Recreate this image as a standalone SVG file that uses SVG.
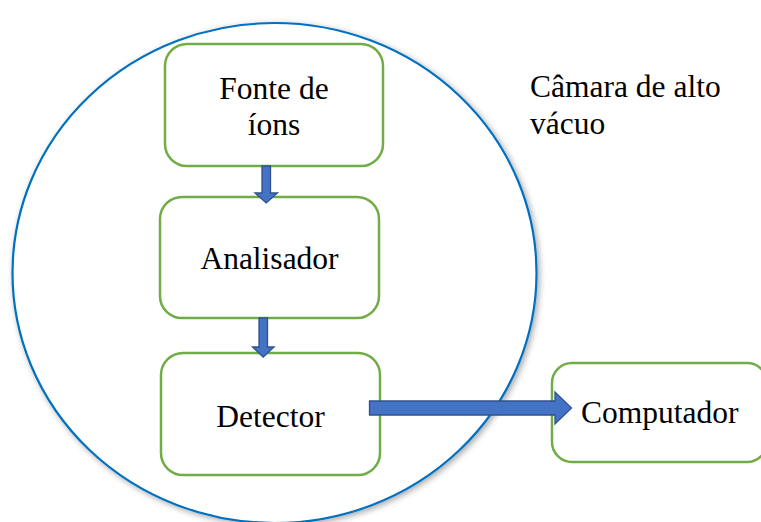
<svg xmlns="http://www.w3.org/2000/svg" width="761" height="522" viewBox="0 0 761 522">
<defs>
<style>
.box{fill:#fff;stroke:#70AD47;stroke-width:2.5}
.t{font-family:"Liberation Serif","Times New Roman",serif;font-size:31.5px;fill:#000}
.arr{fill:#4472C4;stroke:#2F528F;stroke-width:1.3;stroke-linejoin:miter}
</style>
<filter id="sh" x="-10%" y="-10%" width="120%" height="120%">
<feGaussianBlur in="SourceAlpha" stdDeviation="3"/>
<feOffset dx="2" dy="2"/>
<feComponentTransfer><feFuncA type="linear" slope="0.35"/></feComponentTransfer>
<feMerge><feMergeNode/><feMergeNode in="SourceGraphic"/></feMerge>
</filter>
</defs>
<rect width="761" height="522" fill="#fff"/>
<g id="chamber">
<ellipse cx="274.5" cy="273" rx="262" ry="250" fill="#fff" stroke="#0070C0" stroke-width="2.2" filter="url(#sh)"/>
<text class="t" x="530" y="97">Câmara de alto</text>
<text class="t" x="530" y="134">vácuo</text>
</g>
<g id="fonte">
<rect class="box" x="165" y="44" width="218" height="122" rx="22"/>
<text class="t" x="274" y="99" text-anchor="middle">Fonte de</text>
<text class="t" x="274" y="135" text-anchor="middle">íons</text>
</g>
<g id="analisador">
<rect class="box" x="160" y="197" width="219" height="121" rx="22"/>
<text class="t" x="269.5" y="269" text-anchor="middle">Analisador</text>
</g>
<g id="detector">
<rect class="box" x="161" y="353" width="219" height="122" rx="22"/>
<text class="t" x="270.5" y="427" text-anchor="middle">Detector</text>
</g>
<g id="computador">
<rect class="box" x="552" y="363" width="215" height="99" rx="20"/>
<text class="t" x="581" y="423">Computador</text>
</g>
<g id="connectors">
<path class="arr" d="M262,166 L270.5,166 L270.5,193 L277.5,193 L266.2,203 L255,193 L262,193 Z"/>
<path class="arr" d="M259,318 L267.5,318 L267.5,347 L274,347 L263.2,357 L252.5,347 L259,347 Z"/>
<path class="arr" d="M369.5,401 L555,401 L555,392 L571.5,408 L555,424 L555,415 L369.5,415 Z"/>
</g>
</svg>
